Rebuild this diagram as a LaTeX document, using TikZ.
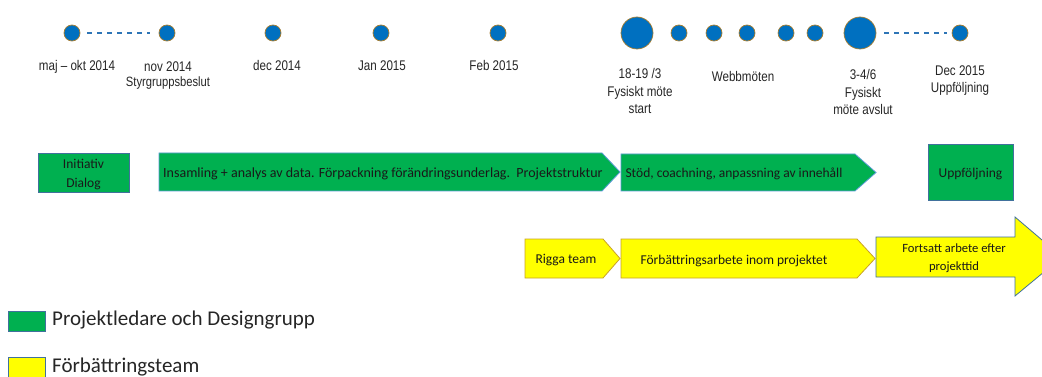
\documentclass[tikz,border=0pt]{standalone}
\usepackage{fontspec}
\setmainfont{Carlito}
\newfontfamily\narrowfont[FakeStretch=0.83]{Liberation Sans}
\usetikzlibrary{backgrounds}
\definecolor{dotblue}{HTML}{0070C0}
\definecolor{lineblue}{HTML}{4472C4}
\definecolor{dashblue}{HTML}{2E75B6}
\definecolor{pgreen}{HTML}{00B050}
\definecolor{pyellow}{HTML}{FFFF00}
\definecolor{edgeblue}{HTML}{5B9BD5}
\definecolor{edgedark}{HTML}{41719C}
\definecolor{edgegold}{HTML}{C9A227}
\definecolor{dotrim}{HTML}{A67C2E}
\tikzset{
  tdot/.style={circle, fill=dotblue, draw=dotrim, line width=0.7pt, inner sep=0pt, minimum size=16pt},
  bigdot/.style={tdot, minimum size=32pt},
  tlab/.style={font=\narrowfont\fontsize{14}{17.5}\selectfont, align=center, anchor=base, text=black!85, inner sep=0pt},
  tline/.style={draw=lineblue, line width=2.5pt},
  dline/.style={draw=dashblue, line width=1.1pt, dash pattern=on 5pt off 5pt},
  gshape/.style={fill=pgreen, draw=edgeblue, line width=0.8pt},
  yshape/.style={fill=pyellow, draw=edgegold, line width=0.8pt},
  btext/.style={font=\fontsize{13.5}{19}\selectfont, align=center, text=black!90, inner sep=0pt},
  legtext/.style={font=\fontsize{21}{25}\selectfont, anchor=base west, text=black!85, inner sep=0pt}
}
\begin{document}
\begin{tikzpicture}[x=1pt,y=-1pt]
\useasboundingbox (0,0) rectangle (1042,377);
\fill[white] (0,0) rectangle (1042,377);
% timeline dots
\node[tdot] (d1) at (72,33) {};
\node[tdot] (d2) at (167,33) {};
\node[tdot] (d3) at (273,33) {};
\node[tdot] (d4) at (381,33) {};
\node[tdot] (d5) at (498,33) {};
\node[bigdot] (b1) at (637,33) {};
\node[tdot] (w1) at (679,33) {};
\node[tdot] (w2) at (714,33) {};
\node[tdot] (w3) at (747,33) {};
\node[tdot] (w4) at (786,33) {};
\node[tdot] (w5) at (815,33) {};
\node[bigdot] (b2) at (860,33) {};
\node[tdot] (d6) at (960,33) {};
\begin{scope}[on background layer]
\draw[tline] (d2) -- (b2);
\end{scope}
\draw[dline] (d1.east) ++(7,0) coordinate (c1) (d2.west) ++(-9,0) coordinate (c2);
\draw[dline] (c1) -- (c2);
\draw[dline] (b2.east) ++(8,0) coordinate (c3) (d6.west) ++(-5,0) coordinate (c4);
\draw[dline] (c3) -- (c4);
% timeline labels (base = baseline of last line)
\node[tlab] (l1) at (77,71) {maj – okt 2014};
\node[tlab] (l2) at (168,87) {nov 2014\\[-2pt]\fontsize{13.5}{16}\selectfont Styrgruppsbeslut};
\node[tlab] (l3) at (277,71) {dec 2014};
\node[tlab] (l4) at (382,71) {Jan 2015};
\node[tlab] (l5) at (494,71) {Feb 2015};
\node[tlab] (l6) at (640,114) {18-19 /3\\Fysiskt möte\\start};
\node[tlab] (l7) at (743,82) {Webbmöten};
\node[tlab] (l8) at (863,115) {3-4/6\\Fysiskt\\möte avslut};
\node[tlab] (l9) at (960,93) {Dec 2015\\Uppföljning};
% green row
\draw[gshape, draw=edgedark] (38,153) rectangle (129,192);
\node[btext] (init) at (83.5,174) {Initiativ\\Dialog};
\draw[gshape] (159,153) -- (602,153) -- (620,172) -- (602,191) -- (159,191) -- cycle;
\node[btext, anchor=west, font=\fontsize{14}{19}\selectfont] (insam) at (163,174) {Insamling + analys av data. Förpackning förändringsunderlag.\ \ Projektstruktur};
\draw[gshape] (621,154) -- (855,154) -- (876,172.5) -- (855,191) -- (621,191) -- cycle;
\node[btext] (stod) at (734,174) {Stöd, coachning, anpassning av innehåll};
\draw[gshape, draw=edgedark] (928,144) rectangle (1013,200);
\node[btext] (uppf) at (970.5,174) {Uppföljning};
% yellow row
\draw[yshape] (525,239) -- (603,239) -- (620,258.5) -- (603,278) -- (525,278) -- cycle;
\node[btext] (rigga) at (566,260.5) {Rigga team};
\draw[yshape] (621,239) -- (857,239) -- (875,258.5) -- (857,278) -- (621,278) -- cycle;
\node[btext] (forb) at (734,260.5) {Förbättringsarbete inom projektet};
\draw[yshape, draw=edgedark] (876,237) -- (1015,237) -- (1015,217) -- (1062,257) -- (1015,296) -- (1015,277) -- (876,277) -- cycle;
\node[btext, font=\fontsize{12.6}{18}\selectfont] (forts) at (954,258.5) {Fortsatt arbete efter\\projekttid};
% legend
\draw[gshape, draw=edgedark] (8,311) rectangle (45,331);
\node[legtext] (lg1) at (52,325) {Projektledare och Designgrupp};
\draw[yshape, draw=edgedark] (8,357) rectangle (45,382);
\node[legtext] (lg2) at (52,372) {Förbättringsteam};
\end{tikzpicture}
\end{document}
